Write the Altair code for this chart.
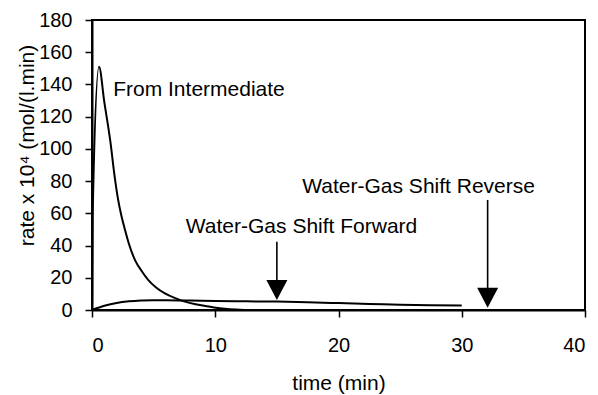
import altair as alt
import pandas as pd

# "From Intermediate" rate curve
inter_t = [0, 0.05, 0.57, 1.0, 1.5, 1.8, 2.13, 2.4, 2.68, 3.0, 3.49, 4.0, 4.57, 5.2, 5.92, 6.7, 7.54, 8.4, 9.2, 10.2, 11.0, 12.0, 13.0]
inter_v = [0, 58, 151, 129, 104, 85, 68, 58, 49.7, 41, 31, 24.5, 18.6, 14, 10.3, 7.5, 5.2, 3.6, 2.5, 1.2, 0.6, 0.2, 0]

# "Water-Gas Shift Forward" rate curve
fwd_t = [0, 1, 2, 3, 4, 5, 6, 8, 10, 12.5, 15, 17.5, 20, 22.5, 25, 27.5, 30]
fwd_v = [0, 2.6, 4.4, 5.4, 5.9, 6.1, 6.1, 5.9, 5.6, 5.4, 5.2, 4.8, 4.3, 3.8, 3.3, 3.0, 2.8]

# annotations
label_text = ["From Intermediate", "Water-Gas Shift Forward", "Water-Gas Shift Reverse"]
label_x = [8.68, 17.0, 26.5]
label_y = [136.6, 51.5, 76.5]

arrow_x = [15.0, 32.1]
arrow_top = [42.4, 68.3]
arrow_head = [12.4, 7.6]

x_ticks = [0, 10, 20, 30, 40]
y_ticks = [0, 20, 40, 60, 80, 100, 120, 140, 160, 180]

FONT = "Liberation Sans"

curves = pd.DataFrame(
    {"t": inter_t + fwd_t,
     "v": inter_v + fwd_v,
     "series": ["From Intermediate"] * len(inter_t) + ["Water-Gas Shift Forward"] * len(fwd_t)}
)
labels = pd.DataFrame({"text": label_text, "x": label_x, "y": label_y})
arrows = pd.DataFrame({"x": arrow_x, "top": arrow_top, "head": arrow_head})

xscale = alt.Scale(domain=[0, 40], nice=False)
yscale = alt.Scale(domain=[0, 180], nice=False)

xaxis = alt.Axis(values=x_ticks, title="time (min)", grid=False, labelAngle=0,
                 tickSize=7, labelPadding=28, labelBaseline="middle", labelOverlap=False,
                 titleY=73, titleBaseline="middle")
yaxis = alt.Axis(values=y_ticks, title="rate x 10⁴ (mol/(l.min)", grid=False,
                 tickSize=7, labelPadding=13, labelBaseline="middle", labelOverlap=False,
                 labelFlush=False, titleX=-65, titleY=125, titleAngle=270, titleAlign="center",
                 titleBaseline="middle")

lines = alt.Chart(curves).mark_line(color="black", strokeWidth=2, interpolate="monotone").encode(
    x=alt.X("t:Q", scale=xscale, axis=xaxis),
    y=alt.Y("v:Q", scale=yscale, axis=yaxis),
    detail="series:N",
)

texts = alt.Chart(labels).mark_text(font=FONT, fontSize=21, color="black", align="center",
                                    baseline="middle").encode(
    x=alt.X("x:Q", scale=xscale, axis=xaxis),
    y=alt.Y("y:Q", scale=yscale, axis=yaxis),
    text="text:N",
)

shafts = alt.Chart(arrows).mark_rule(color="black", strokeWidth=1.6).encode(
    x=alt.X("x:Q", scale=xscale, axis=xaxis),
    y=alt.Y("top:Q", scale=yscale, axis=yaxis),
    y2="head:Q",
)

heads = alt.Chart(arrows).mark_point(shape="M-1,-0.95L1,-0.95L0,0.95Z", size=441, filled=True,
                                     color="black", opacity=1).encode(
    x=alt.X("x:Q", scale=xscale, axis=xaxis),
    y=alt.Y("head:Q", scale=yscale, axis=yaxis),
)

chart = alt.layer(lines, shafts, heads, texts).properties(
    width=493, height=290,
    padding={"left": 92, "top": 20, "right": 13, "bottom": 85},
    autosize=alt.AutoSizeParams(type="none"),
    background="white",
).configure_view(stroke="black", strokeWidth=2).configure_axis(
    domainColor="black", domainWidth=2, tickColor="black", tickWidth=1.5,
    labelFont=FONT, labelFontSize=20, labelColor="black", labelOverlap=False,
    titleFont=FONT, titleFontSize=21, titleColor="black", titleFontWeight="normal",
)

chart.save("out.html", embed_options={"renderer": "svg", "actions": False})
